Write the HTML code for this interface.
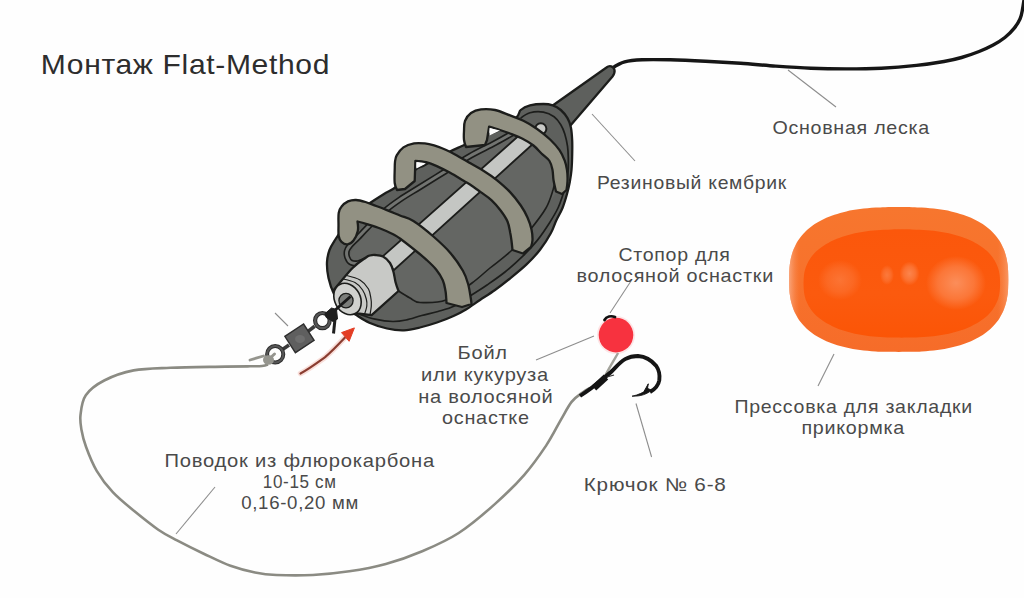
<!DOCTYPE html>
<html><head><meta charset="utf-8">
<style>
html,body{margin:0;padding:0;}
body{width:1024px;height:598px;overflow:hidden;background:#fefefe;position:relative;}
svg{position:absolute;left:0;top:0;}
text{font-family:"Liberation Sans",sans-serif;}
.l{font-size:18.6px;fill:#4a4a4a;letter-spacing:0.7px;}
</style></head><body>
<svg width="1024" height="598" viewBox="0 0 1024 598">
<path d="M612.5,68.0 C612.5,68.0 619.6,63.3 624.6,61.9 C629.6,60.5 634.6,60.1 642.2,59.8 C649.8,59.4 659.8,59.6 670.3,59.8 C680.8,60.0 693.8,60.6 705.5,61.2 C717.2,61.8 728.9,62.5 740.6,63.3 C752.3,64.1 764.1,65.3 775.8,66.1 C787.5,66.9 799.3,67.7 811.0,68.2 C822.7,68.7 834.4,68.9 846.1,68.9 C857.8,68.9 869.6,68.8 881.3,68.2 C893.0,67.6 906.0,66.5 916.5,65.4 C927.0,64.3 936.5,62.8 944.0,61.5 C951.5,60.2 955.8,59.2 961.6,57.5 C967.5,55.8 973.8,53.6 979.1,51.5 C984.4,49.4 988.9,47.3 993.2,45.0 C997.5,42.7 1001.4,40.3 1004.9,37.5 C1008.4,34.7 1011.8,31.2 1014.3,28.1 C1016.8,25.0 1018.7,21.8 1020.1,18.7 C1021.5,15.6 1021.9,12.5 1022.5,9.4 C1023.1,6.3 1023.6,2.4 1024.0,0.0 C1024.4,-2.4 1025.0,-5.0 1025.0,-5.0" stroke="#161616" stroke-width="3.4" fill="none" stroke-linecap="round"/>
<path d="M788,70 L836,107" stroke="#8d8d8d" stroke-width="1.1" fill="none"/>
<path d="M592,114 L635,161" stroke="#8d8d8d" stroke-width="1.1" fill="none"/>
<path d="M631,281 L610,313" stroke="#8d8d8d" stroke-width="1.1" fill="none"/>
<path d="M536,360 L594,336" stroke="#8d8d8d" stroke-width="1.1" fill="none"/>
<path d="M275,313 L288,326" stroke="#8d8d8d" stroke-width="1.1" fill="none"/>
<path d="M834,354 L818,386" stroke="#8d8d8d" stroke-width="1.1" fill="none"/>
<path d="M636,403.5 L651.6,457" stroke="#8d8d8d" stroke-width="1.1" fill="none"/>
<path d="M215,487 L176,534" stroke="#8d8d8d" stroke-width="1.1" fill="none"/>
<path d="M268.0,364.5 C268.0,364.5 265.0,365.7 262.0,366.0 C259.0,366.3 256.1,366.2 250.0,366.3 C243.9,366.4 238.9,366.4 225.6,366.6 C212.3,366.9 185.7,367.2 170.4,367.8 C155.1,368.4 144.6,368.3 133.6,370.4 C122.6,372.5 112.2,376.4 104.2,380.5 C96.2,384.6 89.8,389.4 85.8,395.2 C81.8,400.9 81.2,409.2 80.5,415.0 C79.8,420.8 80.6,424.7 81.5,430.0 C82.4,435.3 83.5,439.9 86.0,446.7 C88.5,453.5 92.2,463.2 96.7,470.8 C101.2,478.4 106.5,485.5 112.8,492.2 C119.0,498.9 126.6,504.8 134.2,511.0 C141.8,517.2 151.2,524.8 158.3,529.7 C165.4,534.6 169.4,536.4 177.0,540.4 C184.6,544.4 194.8,549.5 203.7,553.7 C212.6,557.9 221.9,562.7 230.5,565.8 C239.1,568.9 247.3,571.0 255.0,572.5 C262.6,574.0 266.8,574.6 276.4,575.0 C286.0,575.4 300.8,575.6 312.9,575.0 C325.0,574.4 337.1,573.1 349.3,571.3 C361.5,569.5 373.7,567.3 385.8,564.0 C397.9,560.7 410.1,556.5 422.2,551.3 C434.3,546.1 446.5,540.9 458.7,533.0 C470.9,525.1 484.2,513.6 495.1,503.9 C506.0,494.2 515.8,484.5 524.3,474.8 C532.8,465.1 540.0,454.7 546.1,445.6 C552.2,436.5 556.5,427.4 560.7,420.1 C565.0,412.8 568.0,406.5 571.6,401.9 C575.2,397.3 579.5,394.8 582.6,392.5 C585.7,390.2 590.0,388.0 590.0,388.0" stroke="#8b8b83" stroke-width="2.6" fill="none"/>
<g stroke="#1c1d1b" stroke-width="2.3" stroke-linejoin="round"><path d="M552,106 L606.5,67.5 C609.5,65 613.5,66 614.5,70 C615,72.5 614,74.5 612.5,76.5 L570,126 Z" fill="#5e605d"/>
<path d="M327.0,262.0 C327.2,257.3 328.2,253.7 329.5,250.0 C330.8,246.3 332.9,243.3 335.0,240.0 C337.1,236.7 339.5,233.3 342.0,230.0 C344.5,226.7 347.0,223.3 350.0,220.0 C353.0,216.7 356.7,212.8 360.0,210.0 C363.3,207.2 366.0,205.7 370.0,203.0 C374.0,200.3 379.7,196.7 384.0,194.0 C388.3,191.3 390.8,191.0 396.0,187.0 C401.2,183.0 410.2,173.7 415.0,170.0 C419.8,166.3 419.6,167.9 425.0,165.0 C430.4,162.1 441.3,155.9 447.5,152.7 C453.7,149.5 455.4,148.9 462.0,146.0 C468.6,143.1 480.5,137.8 487.0,135.0 C493.5,132.2 496.1,132.0 501.0,129.0 C505.9,126.0 513.4,120.2 516.7,117.0 C520.0,113.8 518.5,111.9 520.7,110.0 C522.9,108.1 526.2,106.4 530.0,105.4 C533.8,104.4 539.6,104.0 543.4,104.0 C547.2,104.0 549.9,104.4 552.8,105.4 C555.7,106.4 558.3,107.9 560.8,110.0 C563.2,112.1 565.8,115.2 567.5,118.1 C569.2,121.0 570.1,123.7 570.9,127.5 C571.7,131.3 572.0,136.4 572.2,140.8 C572.4,145.2 572.3,149.3 572.2,154.2 C572.1,159.1 571.9,165.4 571.5,170.0 C571.1,174.6 570.5,178.0 569.8,182.0 C569.0,186.0 568.2,189.7 567.0,194.0 C565.8,198.3 564.3,203.5 562.5,208.0 C560.7,212.5 557.9,216.8 556.0,221.0 C554.1,225.2 553.5,228.2 550.9,233.0 C548.3,237.8 544.2,244.3 540.2,249.5 C536.2,254.7 531.9,259.3 526.8,264.2 C521.7,269.1 514.7,274.7 509.4,279.0 C504.1,283.3 499.9,286.5 495.0,290.0 C490.1,293.5 484.8,296.8 480.0,300.0 C475.2,303.2 470.4,306.8 466.0,309.5 C461.6,312.2 458.3,313.8 453.5,316.0 C448.7,318.2 442.6,320.6 437.0,322.5 C431.4,324.4 425.5,326.2 420.0,327.5 C414.5,328.8 409.5,330.1 404.0,330.3 C398.5,330.5 392.8,329.8 387.0,328.5 C381.2,327.2 374.6,325.0 369.3,322.7 C364.1,320.4 359.9,317.3 355.5,314.5 C351.1,311.7 346.6,309.4 343.0,306.0 C339.4,302.6 336.4,298.7 334.0,294.0 C331.6,289.3 329.7,283.3 328.5,278.0 C327.3,272.7 326.8,266.7 327.0,262.0 Z" fill="#5e605d"/>
<path d="M349.0,258.0 C349.0,258.0 352.2,247.5 358.0,240.0 C363.8,232.5 373.7,221.5 384.0,213.0 C394.3,204.5 405.7,198.2 420.0,189.0 C434.3,179.8 453.7,167.5 470.0,158.0 C486.3,148.5 518.0,132.0 518.0,132.0 C518.0,132.0 538.3,134.0 545.0,137.0 C551.7,140.0 555.2,144.8 558.0,150.0 C560.8,155.2 562.0,161.3 562.0,168.0 C562.0,174.7 558.0,190.0 558.0,190.0 C558.0,190.0 537.8,219.7 530.0,230.0 C522.2,240.3 511.0,252.0 511.0,252.0 C511.0,252.0 472.0,283.0 472.0,283.0 C472.0,283.0 446.0,300.0 446.0,300.0 C446.0,300.0 420.0,302.0 420.0,302.0 C420.0,302.0 398.5,291.0 398.5,291.0 C398.5,291.0 383.0,270.0 383.0,270.0 C383.0,270.0 349.0,258.0 349.0,258.0 Z" fill="#646663" stroke="none"/>
<path d="M520.7,118.1 C520.7,118.1 526.2,113.7 530.0,112.7 C533.8,111.7 539.4,111.4 543.4,112.1 C547.4,112.8 551.2,114.7 554.1,116.8 C557.0,118.9 559.0,121.9 560.8,124.8 C562.6,127.7 563.7,130.5 564.8,134.1 C565.9,137.7 566.9,142.2 567.5,146.2 C568.1,150.2 568.2,153.7 568.3,158.0 C568.4,162.3 568.4,167.7 568.0,172.0 C567.6,176.3 566.9,180.0 566.0,184.0 C565.1,188.0 563.8,192.0 562.5,196.0 C561.2,200.0 560.1,203.6 558.0,208.0 C555.9,212.4 553.0,217.3 549.6,222.7 C546.2,228.0 542.0,234.5 537.5,240.1 C533.0,245.7 528.2,250.9 522.8,256.2 C517.4,261.5 511.0,267.2 505.0,272.0 C499.0,276.8 492.8,281.0 487.0,285.0 C481.2,289.0 475.4,292.5 470.0,296.0 C464.6,299.5 459.6,303.4 454.3,306.0 C449.0,308.6 443.4,309.9 438.0,311.5 C432.6,313.1 427.0,314.1 421.7,315.5 C416.4,316.9 410.8,319.0 406.0,320.0 C401.2,321.0 397.8,321.6 392.7,321.5 C387.6,321.4 380.6,320.4 375.1,319.2 C369.7,318.0 360.0,314.5 360.0,314.5" fill="none" stroke-width="1.7"/>
<circle cx="540.8" cy="128.8" r="5.6" fill="#c8c9c6" stroke-width="2"/>
<path d="M398.5,291.0 C398.5,291.0 406.4,296.1 410.0,298.0 C413.6,299.9 414.0,302.2 420.0,302.5 C426.0,302.8 437.3,303.2 446.0,300.0 C454.7,296.8 464.7,288.3 472.0,283.0 C479.3,277.7 483.5,273.3 490.0,268.0 C496.5,262.7 504.3,257.3 511.0,251.0 C517.7,244.7 524.2,237.2 530.0,230.0 C535.8,222.8 542.2,214.7 546.0,208.0 C549.8,201.3 551.3,195.3 553.0,190.0 C554.7,184.7 556.0,176.0 556.0,176.0" fill="none" stroke-width="1.6"/>
<path d="M367.0,259.5 C367.0,259.5 360.7,262.7 358.0,263.2 C355.3,263.7 352.8,263.4 351.0,262.5 C349.2,261.6 348.0,259.4 347.3,257.5 C346.6,255.6 346.4,253.0 346.8,251.0 C347.2,249.0 348.1,247.8 350.0,245.5 C351.9,243.2 355.2,240.4 358.0,237.5 C360.8,234.6 362.7,232.3 367.0,228.0 C371.3,223.7 378.5,216.2 384.0,211.5 C389.5,206.8 394.0,203.6 400.0,199.5 C406.0,195.4 412.5,191.7 420.0,187.0 C427.5,182.3 436.7,176.7 445.0,171.5 C453.3,166.3 461.7,160.8 470.0,156.0 C478.3,151.2 487.0,147.3 495.0,143.0 C503.0,138.7 518.0,130.0 518.0,130.0" fill="none" stroke-width="6.2" stroke-linecap="butt"/>
<path d="M367.0,259.5 C367.0,259.5 360.7,262.7 358.0,263.2 C355.3,263.7 352.8,263.4 351.0,262.5 C349.2,261.6 348.0,259.4 347.3,257.5 C346.6,255.6 346.4,253.0 346.8,251.0 C347.2,249.0 348.1,247.8 350.0,245.5 C351.9,243.2 355.2,240.4 358.0,237.5 C360.8,234.6 362.7,232.3 367.0,228.0 C371.3,223.7 378.5,216.2 384.0,211.5 C389.5,206.8 394.0,203.6 400.0,199.5 C406.0,195.4 412.5,191.7 420.0,187.0 C427.5,182.3 436.7,176.7 445.0,171.5 C453.3,166.3 461.7,160.8 470.0,156.0 C478.3,151.2 487.0,147.3 495.0,143.0 C503.0,138.7 518.0,130.0 518.0,130.0" fill="none" stroke="#727471" stroke-width="3.0" stroke-linecap="butt"/>
<path d="M382,257 L524,131 L534,143 L394,270 Z" fill="#c4c6c3" stroke-width="1.8"/>
<path d="M333.0,291.0 C333.0,291.0 347.1,273.6 352.6,268.0 C358.1,262.4 363.1,259.6 366.0,257.5 C368.9,255.4 368.5,255.9 370.0,255.5 C371.5,255.1 372.8,254.8 375.0,255.0 C377.2,255.2 380.5,255.2 383.0,256.5 C385.5,257.8 388.2,260.4 390.0,263.0 C391.8,265.6 392.6,268.8 393.5,272.0 C394.4,275.2 394.7,278.8 395.5,282.0 C396.3,285.2 398.5,291.0 398.5,291.0 C398.5,291.0 371.6,315.1 371.6,315.1 C371.6,315.1 357.6,313.5 357.6,313.5 C357.6,313.5 333.0,291.0 333.0,291.0 Z" fill="#c8c9c6"/>
<path d="M342.5,279.0 C342.5,279.0 351.6,280.7 355.0,282.5 C358.4,284.3 360.7,287.2 362.6,290.0 C364.5,292.8 365.6,296.3 366.3,299.0 C367.0,301.7 367.1,303.4 366.8,306.0 C366.5,308.6 364.3,314.8 364.3,314.8" fill="none" stroke-width="1.2"/>
<path d="M346.7,275.5 C346.7,275.5 356.4,277.8 360.0,280.0 C363.6,282.2 366.7,285.8 368.5,289.0 C370.3,292.2 370.5,296.2 371.0,299.0 C371.5,301.8 371.5,303.4 371.3,306.0 C371.1,308.6 370.0,314.8 370.0,314.8" fill="none" stroke-width="1.2"/>
<ellipse cx="347.5" cy="299" rx="12.8" ry="16.5" transform="rotate(-28 347.5 299)" fill="#d0d1ce" stroke-width="1.6"/>
<ellipse cx="346" cy="300.6" rx="7.1" ry="7.3" fill="#7b7d7a" stroke-width="1.3"/>
<path d="M341.5,241.8 C340.0,240.4 339.2,238.8 338.7,236.0 C338.2,233.2 338.5,228.8 338.5,225.0 C338.5,221.2 338.2,216.0 338.7,213.0 C339.2,210.0 339.8,208.7 341.4,206.8 C342.9,204.9 345.6,202.5 348.0,201.4 C350.4,200.3 353.1,199.9 356.0,200.0 C358.9,200.1 362.1,201.0 365.5,202.0 C368.9,203.0 372.6,204.7 376.2,206.0 C379.8,207.3 382.9,208.5 386.9,210.1 C390.9,211.7 395.6,213.7 400.0,215.5 C404.4,217.3 407.8,217.5 413.4,221.0 C419.0,224.5 427.2,231.1 433.4,236.5 C439.6,241.9 445.9,247.7 450.8,253.4 C455.7,259.1 460.0,265.7 462.9,270.8 C465.8,275.9 466.9,279.5 468.2,284.2 C469.5,288.9 470.3,295.7 470.9,299.0 C471.4,302.3 471.5,304.0 471.5,304.0 C471.5,304.0 462.0,307.0 462.0,307.0 C462.0,307.0 446.5,303.0 446.5,303.0 C446.5,303.0 446.4,300.0 446.2,298.0 C446.0,296.0 446.1,293.9 445.5,290.9 C444.9,287.9 444.4,283.8 442.8,280.2 C441.2,276.6 438.8,272.9 436.1,269.5 C433.4,266.1 430.2,263.2 426.8,260.1 C423.4,257.0 420.5,254.6 416.0,251.0 C411.5,247.4 403.7,241.2 400.0,238.5 C396.3,235.8 396.9,236.2 393.6,234.5 C390.3,232.8 384.7,230.2 380.2,228.5 C375.7,226.8 370.6,225.3 366.8,224.1 C363.0,222.9 357.5,221.5 357.5,221.5 C357.5,221.5 358.5,227.8 357.8,231.0 C357.1,234.2 355.2,238.3 353.5,240.5 C351.8,242.7 349.5,244.1 347.5,244.3 C345.5,244.5 343.0,243.2 341.5,241.8 Z" fill="#929183"/>
<path d="M397.0,190.0 C397.0,190.0 395.1,186.3 394.7,183.0 C394.3,179.7 394.6,173.5 394.7,170.0 C394.8,166.5 394.7,164.4 395.0,162.0 C395.3,159.6 395.3,157.8 396.7,155.4 C398.1,153.0 400.5,149.4 403.4,147.4 C406.3,145.4 410.5,144.1 414.1,143.4 C417.7,142.7 421.5,143.1 424.8,143.4 C428.1,143.7 430.5,144.3 434.1,145.4 C437.7,146.5 442.4,148.3 446.2,150.0 C450.0,151.7 452.9,153.2 456.9,155.4 C460.9,157.6 465.6,160.4 470.0,163.0 C474.4,165.6 478.9,167.8 483.4,170.7 C487.9,173.5 492.4,176.5 496.8,180.1 C501.2,183.7 506.1,187.9 510.1,192.1 C514.1,196.3 517.9,201.3 520.8,205.5 C523.7,209.7 525.7,213.5 527.5,217.5 C529.3,221.5 530.7,225.8 531.5,229.6 C532.3,233.3 532.6,237.1 532.5,240.0 C532.4,242.9 531.0,247.0 531.0,247.0 C531.0,247.0 523.0,253.5 523.0,253.5 C523.0,253.5 512.5,250.0 512.5,250.0 C512.5,250.0 511.8,243.0 511.4,240.0 C511.0,237.0 510.8,235.3 510.1,232.2 C509.5,229.1 509.1,225.1 507.5,221.5 C505.9,217.9 503.5,214.4 500.8,210.8 C498.1,207.2 494.8,203.2 491.4,200.1 C488.0,197.0 484.3,194.7 480.7,192.1 C477.1,189.5 472.9,186.4 470.0,184.5 C467.1,182.6 466.9,182.8 463.6,180.8 C460.3,178.9 454.7,175.2 450.2,172.8 C445.7,170.4 440.8,167.9 436.8,166.1 C432.8,164.3 429.7,163.0 426.1,162.1 C422.5,161.2 415.4,160.8 415.4,160.8 C415.4,160.8 414.7,181.0 414.7,181.0 C414.7,181.0 405.0,189.0 405.0,189.0 C405.0,189.0 397.0,190.0 397.0,190.0 Z" fill="#929183"/>
<path d="M466.0,147.0 C466.0,147.0 464.3,142.7 464.0,140.0 C463.7,137.3 463.8,134.2 464.0,131.0 C464.2,127.8 463.8,124.0 465.0,121.0 C466.2,118.0 468.3,114.9 471.0,113.0 C473.7,111.1 477.0,109.9 481.0,109.4 C485.0,108.9 490.2,109.0 495.0,110.0 C499.8,111.0 505.3,113.6 510.0,115.4 C514.7,117.2 518.9,118.6 523.4,120.8 C527.9,123.0 532.3,125.7 536.8,128.8 C541.2,131.9 546.3,135.9 550.1,139.5 C553.9,143.1 557.0,146.6 559.5,150.2 C562.0,153.8 563.5,157.6 564.8,160.9 C566.0,164.2 566.5,166.7 567.0,170.0 C567.5,173.3 567.6,177.7 567.5,181.0 C567.4,184.3 566.5,190.0 566.5,190.0 C566.5,190.0 562.0,194.0 562.0,194.0 C562.0,194.0 556.0,191.5 556.0,191.5 C556.0,191.5 554.1,183.6 553.5,180.0 C552.9,176.4 553.2,173.2 552.5,170.0 C551.8,166.8 551.3,163.8 549.5,161.0 C547.7,158.2 544.2,156.1 541.5,153.5 C538.8,150.9 536.6,147.9 533.5,145.5 C530.4,143.1 526.9,141.0 523.0,139.0 C519.1,137.0 513.8,135.0 510.0,133.5 C506.2,132.0 503.5,131.1 500.0,130.0 C496.5,128.9 489.1,126.7 489.1,126.7 C489.1,126.7 487.0,140.0 487.0,140.0 C487.0,140.0 485.0,145.0 485.0,145.0 C485.0,145.0 466.0,147.0 466.0,147.0 Z" fill="#929183"/>
<path d="M416.5,162 L425,164 L416.5,168.5 Z" fill="#fefefe" stroke="none"/>
<path d="M489.5,128 L500,130.5 L489.5,135.5 Z" fill="#fefefe" stroke="none"/></g>
<g>
  <path d="M282.5,349.5 L289,345" stroke="#3a3a3a" stroke-width="3.6"/>
  <path d="M307.7,331.6 L314.7,326.3" stroke="#3a3a3a" stroke-width="3.6"/>
  <ellipse cx="322.4" cy="320.6" rx="7.3" ry="7.6" fill="none" stroke="#2a2a2a" stroke-width="4.2"/>
  <ellipse cx="322.4" cy="320.6" rx="7.3" ry="7.6" fill="none" stroke="#565656" stroke-width="2.2"/>
  <ellipse cx="275.2" cy="354.3" rx="8.1" ry="8.3" fill="none" stroke="#2e2e2e" stroke-width="4"/>
  <ellipse cx="275.2" cy="354.3" rx="8.1" ry="8.3" fill="none" stroke="#575757" stroke-width="2"/>
  <path d="M284.8,336.3 L303.6,324 L314.1,340.4 L295.4,352.7 Z" fill="#5f5f5f" stroke="#2e2e2e" stroke-width="1.4"/>
  <ellipse cx="300" cy="339" rx="5" ry="4" fill="#6e6e6e"/>
</g>
<path d="M333,312 L350.5,296.5" stroke="#1a1a1a" stroke-width="3"/>
<path d="M324.8,313.8 L331.5,308 L336.5,309.5 L337.5,319 L333,321.5 L326.3,317.5 Z" fill="#1e1e1e" stroke="#1e1e1e" stroke-width="1" stroke-linejoin="round"/>
<path d="M335,319 L333.5,333.5" stroke="#1e1e1e" stroke-width="3"/>
<path d="M250,360 L263.5,356" stroke="#95958e" stroke-width="2.8" fill="none" stroke-linecap="round"/>
<ellipse cx="268.5" cy="360" rx="5.5" ry="4.8" fill="#95958e"/>
<path d="M268,360 L274.5,354" stroke="#95958e" stroke-width="3" stroke-linecap="round"/>
<path d="M300.5,373.5 C309,369 317,363 325.1,357.2 C331,352 337,346 345,337.5" stroke="#f4c4bb" stroke-width="5.5" fill="none" stroke-linecap="round" opacity="0.55"/>
<path d="M300.5,373.5 C309,369 317,363 325.1,357.2 C331,352 337,346 345,337.5" stroke="#8a3d31" stroke-width="2.2" fill="none" stroke-linecap="round"/>
<path d="M354.4,327.9 L341.5,332.6 L349.1,341.3 Z" fill="#e33d24" stroke="#e33d24" stroke-width="1" stroke-linejoin="round"/>
<circle cx="616" cy="335.1" r="19" fill="#fbd3d6" opacity="0.6"/>
<circle cx="616" cy="335.1" r="17.3" fill="#f7323f"/>
<path d="M604.5,320 C606.5,316.5 611,315.5 615,317" stroke="#111" stroke-width="2.8" fill="none" stroke-linecap="round"/>
<path d="M618.1,353 C614,360 609,368 605,376" stroke="#a3a39b" stroke-width="2.4" fill="none"/>
<path d="M580,396 C586,392 592,388 600,381.2 C605,377 609,374 612,371 C616,367 620,362 625.1,359.1 C629,357 633,356 638,356 C645,356.5 651,359.5 656.3,366 C659,370 660,375 659.3,380.2 C658.5,385 656,388.5 650,392" stroke="#151515" stroke-width="3.9" fill="none" stroke-linecap="butt"/>
<path d="M651.5,390.3 C647,394 641,396.5 632,396.2 C638,395 644,392.5 648.3,388.6 Z" fill="#151515" stroke="#151515" stroke-width="0.8" stroke-linejoin="round"/>
<path d="M648.3,383.8 L647,391 L644,391.5 Z" fill="#151515" stroke="#151515" stroke-width="1" stroke-linejoin="round"/>
<path d="M594,388 L606,377" stroke="#151515" stroke-width="6.5"/>
<path d="M607,377 L614,375" stroke="#333" stroke-width="1.2"/>
<defs><radialGradient id="hl" cx="0.5" cy="0.5" r="0.5"><stop offset="0" stop-color="#fb9a6c" stop-opacity="0.9"/><stop offset="0.6" stop-color="#fb9a6c" stop-opacity="0.5"/><stop offset="1" stop-color="#fb9a6c" stop-opacity="0"/></radialGradient><linearGradient id="mg" x1="0" y1="0" x2="0" y2="1"><stop offset="0" stop-color="#f7762e"/><stop offset="0.5" stop-color="#f7722c"/><stop offset="1" stop-color="#f66c29"/></linearGradient><linearGradient id="lg" x1="0" y1="0" x2="1" y2="0"><stop offset="0" stop-color="#fab08c"/><stop offset="0.05" stop-color="#f8854a" stop-opacity="0"/><stop offset="0.95" stop-color="#f8854a" stop-opacity="0"/><stop offset="1" stop-color="#f9a070"/></linearGradient><linearGradient id="ig" x1="0" y1="0" x2="0" y2="1"><stop offset="0" stop-color="#fb570b"/><stop offset="0.6" stop-color="#fb5a0e"/><stop offset="1" stop-color="#fb5506"/></linearGradient></defs>
<path d="M1008.3,279.5 C1008.3,282.5 1008.2,285.9 1008.1,288.4 C1008.0,290.9 1007.8,292.7 1007.6,294.6 C1007.3,296.6 1007.0,298.3 1006.7,300.1 C1006.3,301.8 1005.9,303.5 1005.4,305.1 C1004.9,306.7 1004.4,308.2 1003.8,309.7 C1003.2,311.2 1002.5,312.7 1001.8,314.1 C1001.1,315.5 1000.3,316.8 999.5,318.2 C998.7,319.5 997.8,320.7 996.8,322.0 C995.9,323.2 994.9,324.4 993.8,325.6 C992.7,326.7 991.6,327.8 990.4,328.9 C989.2,330.0 988.0,331.0 986.7,332.1 C985.4,333.1 984.1,334.0 982.7,335.0 C981.2,335.9 979.8,336.8 978.3,337.6 C976.7,338.5 975.2,339.3 973.5,340.1 C971.9,340.9 970.2,341.6 968.4,342.3 C966.7,343.0 964.9,343.7 963.0,344.3 C961.1,344.9 959.2,345.5 957.2,346.1 C955.2,346.6 953.2,347.1 951.1,347.6 C948.9,348.1 946.7,348.5 944.5,348.9 C942.2,349.3 939.9,349.7 937.4,350.0 C935.0,350.3 932.5,350.6 929.9,350.8 C927.2,351.1 924.5,351.3 921.6,351.4 C918.6,351.6 916.0,351.7 912.2,351.8 C908.3,351.9 903.2,351.9 898.7,351.9 C894.2,351.9 889.1,351.9 885.2,351.8 C881.4,351.7 878.8,351.6 875.8,351.4 C872.9,351.3 870.2,351.1 867.5,350.8 C864.9,350.6 862.4,350.3 860.0,350.0 C857.5,349.7 855.2,349.3 852.9,348.9 C850.7,348.5 848.5,348.1 846.3,347.6 C844.2,347.1 842.2,346.6 840.2,346.1 C838.2,345.5 836.3,344.9 834.4,344.3 C832.5,343.7 830.7,343.0 829.0,342.3 C827.2,341.6 825.5,340.9 823.9,340.1 C822.2,339.3 820.7,338.5 819.1,337.6 C817.6,336.8 816.2,335.9 814.7,335.0 C813.3,334.0 812.0,333.1 810.7,332.1 C809.4,331.0 808.2,330.0 807.0,328.9 C805.8,327.8 804.7,326.7 803.6,325.6 C802.5,324.4 801.5,323.2 800.6,322.0 C799.6,320.7 798.7,319.5 797.9,318.2 C797.1,316.8 796.3,315.5 795.6,314.1 C794.9,312.7 794.2,311.2 793.6,309.7 C793.0,308.2 792.5,306.7 792.0,305.1 C791.5,303.5 791.1,301.8 790.7,300.1 C790.4,298.3 790.1,296.6 789.8,294.6 C789.6,292.7 789.4,290.9 789.3,288.4 C789.2,285.9 789.1,282.5 789.1,279.5 C789.1,276.5 789.2,273.1 789.3,270.6 C789.4,268.1 789.6,266.3 789.8,264.4 C790.1,262.4 790.4,260.7 790.7,258.9 C791.1,257.2 791.5,255.5 792.0,253.9 C792.5,252.3 793.0,250.8 793.6,249.3 C794.2,247.8 794.9,246.3 795.6,244.9 C796.3,243.5 797.1,242.2 797.9,240.8 C798.7,239.5 799.6,238.3 800.6,237.0 C801.5,235.8 802.5,234.6 803.6,233.4 C804.7,232.3 805.8,231.2 807.0,230.1 C808.2,229.0 809.4,228.0 810.7,226.9 C812.0,225.9 813.3,225.0 814.7,224.0 C816.2,223.1 817.6,222.2 819.1,221.4 C820.7,220.5 822.2,219.7 823.9,218.9 C825.5,218.1 827.2,217.4 829.0,216.7 C830.7,216.0 832.5,215.3 834.4,214.7 C836.3,214.1 838.2,213.5 840.2,212.9 C842.2,212.4 844.2,211.9 846.3,211.4 C848.5,210.9 850.7,210.5 852.9,210.1 C855.2,209.7 857.5,209.3 860.0,209.0 C862.4,208.7 864.9,208.4 867.5,208.2 C870.2,207.9 872.9,207.7 875.8,207.6 C878.8,207.4 881.4,207.3 885.2,207.2 C889.1,207.1 894.2,207.1 898.7,207.1 C903.2,207.1 908.3,207.1 912.2,207.2 C916.0,207.3 918.6,207.4 921.6,207.6 C924.5,207.7 927.2,207.9 929.9,208.2 C932.5,208.4 935.0,208.7 937.4,209.0 C939.9,209.3 942.2,209.7 944.5,210.1 C946.7,210.5 948.9,210.9 951.1,211.4 C953.2,211.9 955.2,212.4 957.2,212.9 C959.2,213.5 961.1,214.1 963.0,214.7 C964.9,215.3 966.7,216.0 968.4,216.7 C970.2,217.4 971.9,218.1 973.5,218.9 C975.2,219.7 976.7,220.5 978.3,221.4 C979.8,222.2 981.2,223.1 982.7,224.0 C984.1,225.0 985.4,225.9 986.7,226.9 C988.0,228.0 989.2,229.0 990.4,230.1 C991.6,231.2 992.7,232.3 993.8,233.4 C994.9,234.6 995.9,235.8 996.8,237.0 C997.8,238.3 998.7,239.5 999.5,240.8 C1000.3,242.2 1001.1,243.5 1001.8,244.9 C1002.5,246.3 1003.2,247.8 1003.8,249.3 C1004.4,250.8 1004.9,252.3 1005.4,253.9 C1005.9,255.5 1006.3,257.2 1006.7,258.9 C1007.0,260.7 1007.3,262.4 1007.6,264.4 C1007.8,266.3 1008.0,268.1 1008.1,270.6 C1008.2,273.1 1008.3,276.5 1008.3,279.5 Z" fill="url(#mg)"/>
<path d="M1008.3,279.5 C1008.3,282.5 1008.2,285.9 1008.1,288.4 C1008.0,290.9 1007.8,292.7 1007.6,294.6 C1007.3,296.6 1007.0,298.3 1006.7,300.1 C1006.3,301.8 1005.9,303.5 1005.4,305.1 C1004.9,306.7 1004.4,308.2 1003.8,309.7 C1003.2,311.2 1002.5,312.7 1001.8,314.1 C1001.1,315.5 1000.3,316.8 999.5,318.2 C998.7,319.5 997.8,320.7 996.8,322.0 C995.9,323.2 994.9,324.4 993.8,325.6 C992.7,326.7 991.6,327.8 990.4,328.9 C989.2,330.0 988.0,331.0 986.7,332.1 C985.4,333.1 984.1,334.0 982.7,335.0 C981.2,335.9 979.8,336.8 978.3,337.6 C976.7,338.5 975.2,339.3 973.5,340.1 C971.9,340.9 970.2,341.6 968.4,342.3 C966.7,343.0 964.9,343.7 963.0,344.3 C961.1,344.9 959.2,345.5 957.2,346.1 C955.2,346.6 953.2,347.1 951.1,347.6 C948.9,348.1 946.7,348.5 944.5,348.9 C942.2,349.3 939.9,349.7 937.4,350.0 C935.0,350.3 932.5,350.6 929.9,350.8 C927.2,351.1 924.5,351.3 921.6,351.4 C918.6,351.6 916.0,351.7 912.2,351.8 C908.3,351.9 903.2,351.9 898.7,351.9 C894.2,351.9 889.1,351.9 885.2,351.8 C881.4,351.7 878.8,351.6 875.8,351.4 C872.9,351.3 870.2,351.1 867.5,350.8 C864.9,350.6 862.4,350.3 860.0,350.0 C857.5,349.7 855.2,349.3 852.9,348.9 C850.7,348.5 848.5,348.1 846.3,347.6 C844.2,347.1 842.2,346.6 840.2,346.1 C838.2,345.5 836.3,344.9 834.4,344.3 C832.5,343.7 830.7,343.0 829.0,342.3 C827.2,341.6 825.5,340.9 823.9,340.1 C822.2,339.3 820.7,338.5 819.1,337.6 C817.6,336.8 816.2,335.9 814.7,335.0 C813.3,334.0 812.0,333.1 810.7,332.1 C809.4,331.0 808.2,330.0 807.0,328.9 C805.8,327.8 804.7,326.7 803.6,325.6 C802.5,324.4 801.5,323.2 800.6,322.0 C799.6,320.7 798.7,319.5 797.9,318.2 C797.1,316.8 796.3,315.5 795.6,314.1 C794.9,312.7 794.2,311.2 793.6,309.7 C793.0,308.2 792.5,306.7 792.0,305.1 C791.5,303.5 791.1,301.8 790.7,300.1 C790.4,298.3 790.1,296.6 789.8,294.6 C789.6,292.7 789.4,290.9 789.3,288.4 C789.2,285.9 789.1,282.5 789.1,279.5 C789.1,276.5 789.2,273.1 789.3,270.6 C789.4,268.1 789.6,266.3 789.8,264.4 C790.1,262.4 790.4,260.7 790.7,258.9 C791.1,257.2 791.5,255.5 792.0,253.9 C792.5,252.3 793.0,250.8 793.6,249.3 C794.2,247.8 794.9,246.3 795.6,244.9 C796.3,243.5 797.1,242.2 797.9,240.8 C798.7,239.5 799.6,238.3 800.6,237.0 C801.5,235.8 802.5,234.6 803.6,233.4 C804.7,232.3 805.8,231.2 807.0,230.1 C808.2,229.0 809.4,228.0 810.7,226.9 C812.0,225.9 813.3,225.0 814.7,224.0 C816.2,223.1 817.6,222.2 819.1,221.4 C820.7,220.5 822.2,219.7 823.9,218.9 C825.5,218.1 827.2,217.4 829.0,216.7 C830.7,216.0 832.5,215.3 834.4,214.7 C836.3,214.1 838.2,213.5 840.2,212.9 C842.2,212.4 844.2,211.9 846.3,211.4 C848.5,210.9 850.7,210.5 852.9,210.1 C855.2,209.7 857.5,209.3 860.0,209.0 C862.4,208.7 864.9,208.4 867.5,208.2 C870.2,207.9 872.9,207.7 875.8,207.6 C878.8,207.4 881.4,207.3 885.2,207.2 C889.1,207.1 894.2,207.1 898.7,207.1 C903.2,207.1 908.3,207.1 912.2,207.2 C916.0,207.3 918.6,207.4 921.6,207.6 C924.5,207.7 927.2,207.9 929.9,208.2 C932.5,208.4 935.0,208.7 937.4,209.0 C939.9,209.3 942.2,209.7 944.5,210.1 C946.7,210.5 948.9,210.9 951.1,211.4 C953.2,211.9 955.2,212.4 957.2,212.9 C959.2,213.5 961.1,214.1 963.0,214.7 C964.9,215.3 966.7,216.0 968.4,216.7 C970.2,217.4 971.9,218.1 973.5,218.9 C975.2,219.7 976.7,220.5 978.3,221.4 C979.8,222.2 981.2,223.1 982.7,224.0 C984.1,225.0 985.4,225.9 986.7,226.9 C988.0,228.0 989.2,229.0 990.4,230.1 C991.6,231.2 992.7,232.3 993.8,233.4 C994.9,234.6 995.9,235.8 996.8,237.0 C997.8,238.3 998.7,239.5 999.5,240.8 C1000.3,242.2 1001.1,243.5 1001.8,244.9 C1002.5,246.3 1003.2,247.8 1003.8,249.3 C1004.4,250.8 1004.9,252.3 1005.4,253.9 C1005.9,255.5 1006.3,257.2 1006.7,258.9 C1007.0,260.7 1007.3,262.4 1007.6,264.4 C1007.8,266.3 1008.0,268.1 1008.1,270.6 C1008.2,273.1 1008.3,276.5 1008.3,279.5 Z" fill="url(#lg)" opacity="0.8"/>
<path d="M1000.1,283.5 C1000.1,285.4 1000.0,287.4 999.9,289.1 C999.8,290.7 999.6,292.0 999.4,293.4 C999.2,294.8 998.9,296.1 998.5,297.4 C998.2,298.7 997.8,299.9 997.3,301.1 C996.8,302.3 996.3,303.4 995.7,304.5 C995.2,305.7 994.5,306.8 993.8,307.8 C993.1,308.9 992.4,310.0 991.6,311.0 C990.8,312.0 989.9,313.0 989.0,313.9 C988.1,314.9 987.1,315.8 986.1,316.7 C985.1,317.6 984.0,318.5 982.9,319.3 C981.7,320.2 980.5,321.0 979.3,321.8 C978.1,322.6 976.8,323.4 975.4,324.1 C974.1,324.8 972.7,325.6 971.3,326.2 C969.8,326.9 968.3,327.6 966.8,328.2 C965.3,328.8 963.7,329.4 962.0,330.0 C960.4,330.5 958.7,331.1 957.0,331.6 C955.2,332.1 953.4,332.6 951.6,333.0 C949.8,333.4 947.9,333.9 945.9,334.2 C944.0,334.6 942.0,335.0 940.0,335.3 C937.9,335.6 935.8,335.9 933.7,336.2 C931.5,336.4 929.3,336.6 927.0,336.8 C924.7,337.0 922.3,337.2 919.8,337.3 C917.3,337.4 914.9,337.5 911.9,337.6 C908.9,337.7 905.2,337.7 901.8,337.7 C898.4,337.7 894.7,337.7 891.7,337.6 C888.7,337.5 886.3,337.4 883.8,337.3 C881.3,337.2 878.9,337.0 876.6,336.8 C874.3,336.6 872.1,336.4 869.9,336.2 C867.8,335.9 865.7,335.6 863.6,335.3 C861.6,335.0 859.6,334.6 857.7,334.2 C855.7,333.9 853.8,333.4 852.0,333.0 C850.2,332.6 848.4,332.1 846.6,331.6 C844.9,331.1 843.2,330.5 841.6,330.0 C839.9,329.4 838.3,328.8 836.8,328.2 C835.3,327.6 833.8,326.9 832.3,326.2 C830.9,325.6 829.5,324.8 828.2,324.1 C826.8,323.4 825.5,322.6 824.3,321.8 C823.1,321.0 821.9,320.2 820.7,319.3 C819.6,318.5 818.5,317.6 817.5,316.7 C816.5,315.8 815.5,314.9 814.6,313.9 C813.7,313.0 812.8,312.0 812.0,311.0 C811.2,310.0 810.5,308.9 809.8,307.8 C809.1,306.8 808.4,305.7 807.9,304.5 C807.3,303.4 806.8,302.3 806.3,301.1 C805.8,299.9 805.4,298.7 805.1,297.4 C804.7,296.1 804.4,294.8 804.2,293.4 C804.0,292.0 803.8,290.7 803.7,289.1 C803.6,287.4 803.5,285.4 803.5,283.5 C803.5,281.6 803.6,279.6 803.7,277.9 C803.8,276.3 804.0,275.0 804.2,273.6 C804.4,272.2 804.7,270.9 805.1,269.6 C805.4,268.3 805.8,267.1 806.3,265.9 C806.8,264.7 807.3,263.6 807.9,262.5 C808.4,261.3 809.1,260.2 809.8,259.2 C810.5,258.1 811.2,257.0 812.0,256.0 C812.8,255.0 813.7,254.0 814.6,253.1 C815.5,252.1 816.5,251.2 817.5,250.3 C818.5,249.4 819.6,248.5 820.7,247.7 C821.9,246.8 823.1,246.0 824.3,245.2 C825.5,244.4 826.8,243.6 828.2,242.9 C829.5,242.2 830.9,241.4 832.3,240.8 C833.8,240.1 835.3,239.4 836.8,238.8 C838.3,238.2 839.9,237.6 841.6,237.0 C843.2,236.5 844.9,235.9 846.6,235.4 C848.4,234.9 850.2,234.4 852.0,234.0 C853.8,233.6 855.7,233.1 857.7,232.8 C859.6,232.4 861.6,232.0 863.6,231.7 C865.7,231.4 867.8,231.1 869.9,230.8 C872.1,230.6 874.3,230.4 876.6,230.2 C878.9,230.0 881.3,229.8 883.8,229.7 C886.3,229.6 888.7,229.5 891.7,229.4 C894.7,229.3 898.4,229.3 901.8,229.3 C905.2,229.3 908.9,229.3 911.9,229.4 C914.9,229.5 917.3,229.6 919.8,229.7 C922.3,229.8 924.7,230.0 927.0,230.2 C929.3,230.4 931.5,230.6 933.7,230.8 C935.8,231.1 937.9,231.4 940.0,231.7 C942.0,232.0 944.0,232.4 945.9,232.8 C947.9,233.1 949.8,233.6 951.6,234.0 C953.4,234.4 955.2,234.9 957.0,235.4 C958.7,235.9 960.4,236.5 962.0,237.0 C963.7,237.6 965.3,238.2 966.8,238.8 C968.3,239.4 969.8,240.1 971.3,240.8 C972.7,241.4 974.1,242.2 975.4,242.9 C976.8,243.6 978.1,244.4 979.3,245.2 C980.5,246.0 981.7,246.8 982.9,247.7 C984.0,248.5 985.1,249.4 986.1,250.3 C987.1,251.2 988.1,252.1 989.0,253.1 C989.9,254.0 990.8,255.0 991.6,256.0 C992.4,257.0 993.1,258.1 993.8,259.2 C994.5,260.2 995.2,261.3 995.7,262.5 C996.3,263.6 996.8,264.7 997.3,265.9 C997.8,267.1 998.2,268.3 998.5,269.6 C998.9,270.9 999.2,272.2 999.4,273.6 C999.6,275.0 999.8,276.3 999.9,277.9 C1000.0,279.6 1000.1,281.6 1000.1,283.5 Z" fill="url(#ig)"/>
<ellipse cx="956" cy="283" rx="30" ry="27" fill="url(#hl)" opacity="0.9"/>
<ellipse cx="909.5" cy="273.5" rx="10" ry="12" fill="url(#hl)" opacity="0.75"/>
<ellipse cx="887" cy="275" rx="7" ry="10" fill="url(#hl)" opacity="0.55"/>
<ellipse cx="840" cy="280" rx="22" ry="20" fill="url(#hl)" opacity="0.45"/>
<text x="40.8" y="73.5" font-size="28.5" fill="#2d2d2d" letter-spacing="0.6" textLength="289.2" lengthAdjust="spacingAndGlyphs">Монтаж Flat-Method</text>
<text class="l" x="772.4" y="133.8" textLength="157.6" lengthAdjust="spacingAndGlyphs">Основная леска</text>
<text class="l" x="597.0" y="188.5" textLength="190.0" lengthAdjust="spacingAndGlyphs">Резиновый кембрик</text>
<text class="l" x="618.4" y="261.4" textLength="112.2" lengthAdjust="spacingAndGlyphs">Стопор для</text>
<text class="l" x="576.4" y="281.9" textLength="197.6" lengthAdjust="spacingAndGlyphs">волосяной оснастки</text>
<text class="l" x="457.6" y="359.2" textLength="50.2" lengthAdjust="spacingAndGlyphs">Бойл</text>
<text class="l" x="421.0" y="381.3" textLength="128.0" lengthAdjust="spacingAndGlyphs">или кукуруза</text>
<text class="l" x="418.2" y="402.7" textLength="135.4" lengthAdjust="spacingAndGlyphs">на волосяной</text>
<text class="l" x="442.0" y="423.6" textLength="87.8" lengthAdjust="spacingAndGlyphs">оснастке</text>
<text class="l" x="734.4" y="413.0" textLength="238.6" lengthAdjust="spacingAndGlyphs">Прессовка для закладки</text>
<text class="l" x="801.4" y="433.5" textLength="103.6" lengthAdjust="spacingAndGlyphs">прикормка</text>
<text class="l" x="583.8" y="491.2" textLength="142.8" lengthAdjust="spacingAndGlyphs">Крючок № 6-8</text>
<text class="l" x="164.4" y="466.8" textLength="270.6" lengthAdjust="spacingAndGlyphs">Поводок из флюрокарбона</text>
<text class="l" x="262.8" y="487.5" textLength="73.8" lengthAdjust="spacingAndGlyphs">10-15 см</text>
<text class="l" x="241.2" y="508.8" textLength="117.8" lengthAdjust="spacingAndGlyphs">0,16-0,20 мм</text>
</svg>
</body></html>
